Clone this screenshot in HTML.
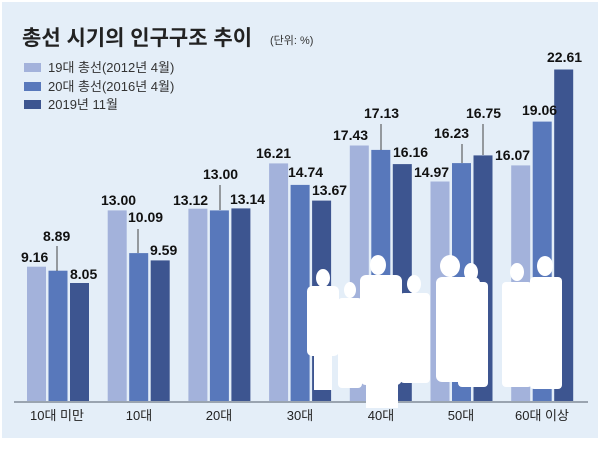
<!DOCTYPE html>
<html><head><meta charset="utf-8"><style>
body{margin:0;width:600px;height:447px;background:#fff;overflow:hidden}
svg text{font-family:"Liberation Sans","Noto Sans CJK KR",sans-serif}
</style></head><body>
<svg width="600" height="447" xmlns="http://www.w3.org/2000/svg">
<rect x="2" y="2" width="596" height="436" fill="#e4eef8"/>
<text x="22" y="45" font-size="21" font-weight="bold" fill="#222">총선 시기의 인구구조 추이</text>
<text x="270" y="44" font-size="11" fill="#333">(단위: %)</text>
<rect x="24" y="63" width="17" height="9" fill="#a3b2db"/>
<text x="48" y="72" font-size="13" fill="#333">19대 총선(2012년 4월)</text>
<rect x="24" y="82" width="17" height="9" fill="#5878bb"/>
<text x="48" y="91" font-size="13" fill="#333">20대 총선(2016년 4월)</text>
<rect x="24" y="100" width="17" height="9" fill="#3d5590"/>
<text x="48" y="109" font-size="13" fill="#333">2019년 11월</text>
<g>
<rect x="27" y="266.7" width="19" height="134.3" fill="#a3b2db"/>
<rect x="48.5" y="270.7" width="19" height="130.3" fill="#5878bb"/>
<rect x="70" y="283" width="19" height="118" fill="#3d5590"/>
<rect x="107.7" y="210.4" width="19" height="190.6" fill="#a3b2db"/>
<rect x="129.2" y="253.1" width="19" height="147.9" fill="#5878bb"/>
<rect x="150.7" y="260.4" width="19" height="140.6" fill="#3d5590"/>
<rect x="188.4" y="208.7" width="19" height="192.3" fill="#a3b2db"/>
<rect x="209.9" y="210.4" width="19" height="190.6" fill="#5878bb"/>
<rect x="231.4" y="208.4" width="19" height="192.6" fill="#3d5590"/>
<rect x="269.1" y="163.4" width="19" height="237.6" fill="#a3b2db"/>
<rect x="290.6" y="184.9" width="19" height="216.1" fill="#5878bb"/>
<rect x="312.1" y="200.6" width="19" height="200.4" fill="#3d5590"/>
<rect x="349.8" y="145.5" width="19" height="255.5" fill="#a3b2db"/>
<rect x="371.3" y="149.9" width="19" height="251.1" fill="#5878bb"/>
<rect x="392.8" y="164.1" width="19" height="236.9" fill="#3d5590"/>
<rect x="430.5" y="181.5" width="19" height="219.5" fill="#a3b2db"/>
<rect x="452" y="163.1" width="19" height="237.9" fill="#5878bb"/>
<rect x="473.5" y="155.4" width="19" height="245.6" fill="#3d5590"/>
<rect x="511.2" y="165.4" width="19" height="235.6" fill="#a3b2db"/>
<rect x="532.7" y="121.6" width="19" height="279.4" fill="#5878bb"/>
<rect x="554.2" y="69.5" width="19" height="331.5" fill="#3d5590"/>
</g>
<line x1="14" y1="402" x2="588" y2="402" stroke="#9aa4b0" stroke-width="2"/>
<g fill="#fff">
<ellipse cx="323" cy="278" rx="7" ry="9"/><rect x="307" y="286" width="32" height="70" rx="5"/><rect x="314" y="350" width="18" height="40"/>
<ellipse cx="350" cy="290" rx="6" ry="8"/><rect x="338" y="298" width="24" height="90" rx="4"/>
<ellipse cx="378" cy="265" rx="8" ry="10"/><rect x="360" y="275" width="42" height="110" rx="6"/><rect x="366" y="380" width="32" height="28"/>
<ellipse cx="414" cy="284" rx="7" ry="9"/><rect x="400" y="293" width="30" height="90" rx="4"/>
<ellipse cx="450" cy="266" rx="10" ry="11"/><rect x="436" y="277" width="44" height="105" rx="6"/>
<ellipse cx="471" cy="272" rx="7" ry="9"/><rect x="458" y="282" width="30" height="105" rx="4"/>
<ellipse cx="517" cy="272" rx="7" ry="9"/><rect x="502" y="282" width="30" height="105" rx="4"/>
<ellipse cx="545" cy="266" rx="8" ry="10"/><rect x="530" y="277" width="32" height="112" rx="4"/>
</g>
<g stroke="#444" stroke-width="1">
<line x1="57" y1="246" x2="57" y2="271"/>
<line x1="138" y1="229" x2="138" y2="253"/>
<line x1="220" y1="185" x2="220" y2="210"/>
<line x1="381" y1="124" x2="381" y2="150"/>
<line x1="462" y1="144" x2="462" y2="163"/>
<line x1="483" y1="124" x2="483" y2="155"/>
</g>
<g font-size="14" font-weight="bold" fill="#111">
<text x="21" y="262">9.16</text><text x="43" y="241">8.89</text><text x="70" y="279">8.05</text>
<text x="101" y="205">13.00</text><text x="128" y="222">10.09</text><text x="150" y="255">9.59</text>
<text x="173" y="205">13.12</text><text x="203" y="179">13.00</text><text x="230" y="204">13.14</text>
<text x="256" y="158">16.21</text><text x="288" y="177">14.74</text><text x="312" y="195">13.67</text>
<text x="333" y="140">17.43</text><text x="364" y="118">17.13</text><text x="393" y="157">16.16</text>
<text x="414" y="177">14.97</text><text x="434" y="138">16.23</text><text x="466" y="118">16.75</text>
<text x="495" y="160">16.07</text><text x="522" y="115">19.06</text><text x="547" y="62">22.61</text>
</g>
<g font-size="13" fill="#222" text-anchor="middle">
<text x="57" y="420">10대 미만</text><text x="139" y="420">10대</text><text x="219" y="420">20대</text>
<text x="300" y="420">30대</text><text x="381" y="420">40대</text><text x="461" y="420">50대</text><text x="542" y="420">60대 이상</text>
</g>
</svg>
</body></html>
